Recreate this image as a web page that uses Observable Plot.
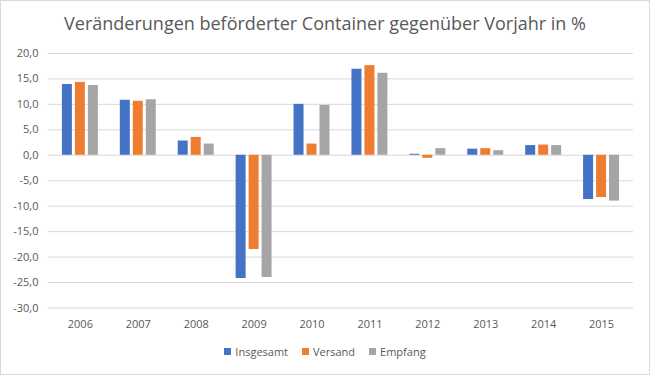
<!DOCTYPE html>
<html>
<head>
<meta charset="utf-8">
<script src="https://cdn.jsdelivr.net/npm/d3@7"></script>
<script src="https://cdn.jsdelivr.net/npm/@observablehq/plot@0.6"></script>
<style>
  html, body { margin: 0; padding: 0; background: #fff; }
  #wrap { position: relative; width: 650px; height: 375px; box-sizing: border-box; border: 1px solid #d9d9d9; overflow: hidden; font-family: "Open Sans", sans-serif; color: #595959; }
  #title { position: absolute; left: 0; right: 0; top: 10px; text-align: center; font-size: 18px; color: #595959; white-space: nowrap; }
  #chart { position: absolute; left: -1px; top: -1px; }
  #legend { position: absolute; left: 0; right: 0; top: 343px; display: flex; justify-content: center; gap: 14px; font-size: 11px; color: #595959; }
  #legend span.item { display: flex; align-items: center; }
  #legend span.sw { display: inline-block; width: 7px; height: 7px; margin-right: 4px; }
</style>
</head>
<body>
<div id="wrap">
  <div id="chart"></div>
  <div id="title"></div>
  <div id="legend"></div>
</div>
<script>
const title = "Veränderungen beförderter Container gegenüber Vorjahr in %";
const years = ["2006","2007","2008","2009","2010","2011","2012","2013","2014","2015"];
const seriesNames = ["Insgesamt","Versand","Empfang"];
const colors = ["#4472C4","#ED7D31","#A5A5A5"];
const insgesamt = [13.9, 10.8, 2.8, -24.2, 10.0, 16.9, 0.2, 1.2, 1.9, -8.7];
const versand   = [14.3, 10.6, 3.5, -18.5, 2.2, 17.6, -0.6, 1.3, 2.0, -8.3];
const empfang   = [13.7, 10.9, 2.2, -24.0, 9.8, 16.1, 1.3, 0.9, 1.9, -9.0];
const yTicks = [20, 15, 10, 5, 0, -5, -10, -15, -20, -25, -30];

const seriesValues = [insgesamt, versand, empfang];
const rows = seriesValues.map((vals, s) => years.map((y, i) => ({year: y, series: seriesNames[s], value: vals[i]})));

const bandInset = [[0, 26], [13, 13], [26, 0]];
const fmt = d => d.toFixed(1).replace(".", ",");

const plot = Plot.plot({
  width: 650,
  height: 375,
  marginTop: 53,
  marginBottom: 67,
  marginLeft: 48,
  marginRight: 16,
  style: { fontFamily: "Open Sans, sans-serif", fontSize: "11px", color: "#595959", background: "transparent" },
  x: { type: "band", domain: years, paddingInner: 0.38, paddingOuter: 0.19, align: 0.5, label: null, tickSize: 0, tickPadding: 12 },
  y: { domain: [-30, 20], ticks: yTicks, tickFormat: fmt, label: null, tickSize: 0, tickPadding: 10 },
  marks: [
    Plot.ruleY(yTicks, { stroke: "#d9d9d9", strokeWidth: 1 }),
    ...rows.map((data, s) => Plot.barY(data, {
      x: "year", y: "value", fill: colors[s],
      insetLeft: bandInset[s][0], insetRight: bandInset[s][1]
    }))
  ]
});
document.getElementById("chart").appendChild(plot);
document.getElementById("title").textContent = title;
const legend = document.getElementById("legend");
seriesNames.forEach((n, i) => {
  const item = document.createElement("span");
  item.className = "item";
  const sw = document.createElement("span");
  sw.className = "sw";
  sw.style.background = colors[i];
  item.appendChild(sw);
  item.appendChild(document.createTextNode(n));
  legend.appendChild(item);
});
</script>
</body>
</html>
